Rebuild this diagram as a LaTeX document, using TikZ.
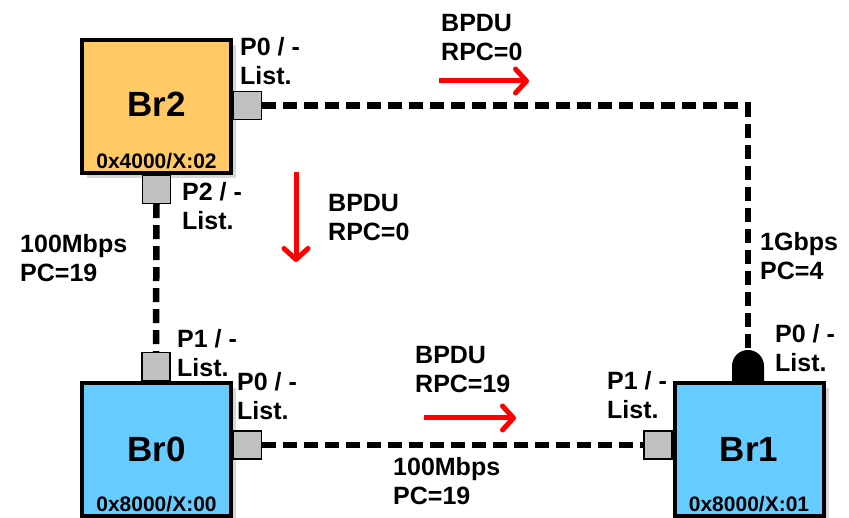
\documentclass[tikz,border=0pt]{standalone}
\usepackage{fontspec}
\setmainfont{Liberation Sans}
\usetikzlibrary{arrows.meta, positioning, shadows}

\definecolor{rootorange}{HTML}{FFC966}
\definecolor{brblue}{HTML}{66CCFF}
\definecolor{portgray}{HTML}{C0C0C0}

\begin{document}
\begin{tikzpicture}[
    x=1pt, y=-1pt,
    font=\bfseries,
    bridge/.style={draw=black, line width=4pt, minimum width=149pt, minimum height=133pt,
        inner sep=0pt, font=\fontsize{35}{40}\selectfont\bfseries,
        drop shadow={shadow xshift=5pt, shadow yshift=-5pt, opacity=0.3}},
    bid/.style={inner sep=0pt, font=\fontsize{21}{24}\selectfont\bfseries},
    port/.style={draw=black, line width=1.2pt, fill=portgray, minimum width=28pt,
        minimum height=28pt, inner sep=0pt},
    lbl/.style={inner sep=0pt, anchor=north west, align=left,
        font=\fontsize{25}{29}\selectfont\bfseries},
    link/.style={line width=6.5pt, dash pattern=on 14pt off 7pt},
    bpdu/.style={red, line width=5pt, -{Straight Barb[length=11pt, width=24pt, round]}}
]
    \useasboundingbox[fill=white] (0,0) rectangle (849,518);

    % bridges
    \node[bridge, fill=rootorange] (br2) at (156.5,106.5) {\raisebox{4pt}{Br2}};
    \node[bridge, fill=brblue] (br0) at (156.5,449.5) {Br0};
    \node[bridge, fill=brblue] (br1) at (749,449.5) {Br1};

    \node[bid, above=6pt of br2.south] (br2id) {0x4000/X:02};
    \node[bid, above=6pt of br0.south] (br0id) {0x8000/X:00};
    \node[bid, above=6pt of br1.south] (br1id) {0x8000/X:01};

    % ports
    \node[port, anchor=west] (br2p0) at ([yshift=1pt]br2.east) {};
    \node[port, anchor=north] (br2p2) at (br2.south) {};
    \node[port, anchor=south] (br0p1) at ([xshift=-0.5pt]br0.north) {};
    \node[port, anchor=west] (br0p0) at ([yshift=4.5pt]br0.east) {};
    \node[port, anchor=east] (br1p1) at ([yshift=4.5pt]br1.west) {};

    % root port of Br1 (blocking shape)
    \coordinate (br1p0) at (748,350);
    \fill[black] (732,381) -- (732,366) arc[start angle=180, end angle=0, radius=16pt]
        -- (764,381) -- cycle;

    % links
    \draw[link] (br2p0.east) -| (br1p0);
    \draw[link] (br2p2.south) -- (br0p1.north);
    \draw[link] (br0p0.east) -- (br1p1.west);

    % BPDU arrows
    \coordinate (topA) at (439,81);
    \coordinate (topB) at (529,81);
    \coordinate (midA) at (296,172);
    \coordinate (midB) at (296,262);
    \coordinate (botA) at (424,418);
    \coordinate (botB) at (516,418);
    \draw[bpdu] (topA) -- (topB);
    \draw[bpdu] (midA) -- (midB);
    \draw[bpdu] (botA) -- (botB);

    % labels
    \node[lbl] (br2p0lbl) at (240,37) {P0 / -\\List.};
    \node[lbl] (br2p2lbl) at (182,182) {P2 / -\\List.};
    \node[lbl] (leftlnk) at (20,234) {100Mbps\\PC=19};
    \node[lbl] (topbpdu) at (441,14) {BPDU\\RPC=0};
    \node[lbl] (midbpdu) at (328,194) {BPDU\\RPC=0};
    \node[lbl] (botbpdu) at (415,346) {BPDU\\RPC=19};
    \node[lbl] (br1p1lbl) at (607,371) {P1 / -\\List.};
    \node[lbl] (botlnk) at (393,457) {100Mbps\\PC=19};
    \node[lbl] (rightlnk) at (760,232) {1Gbps\\PC=4};
    \node[lbl] (br1p0lbl) at (775,324) {P0 / -\\List.};
    \node[lbl] (br0p1lbl) at (177,329) {P1 / -\\List.};
    \node[lbl] (br0p0lbl) at (237,372) {P0 / -\\List.};
\end{tikzpicture}
\end{document}
